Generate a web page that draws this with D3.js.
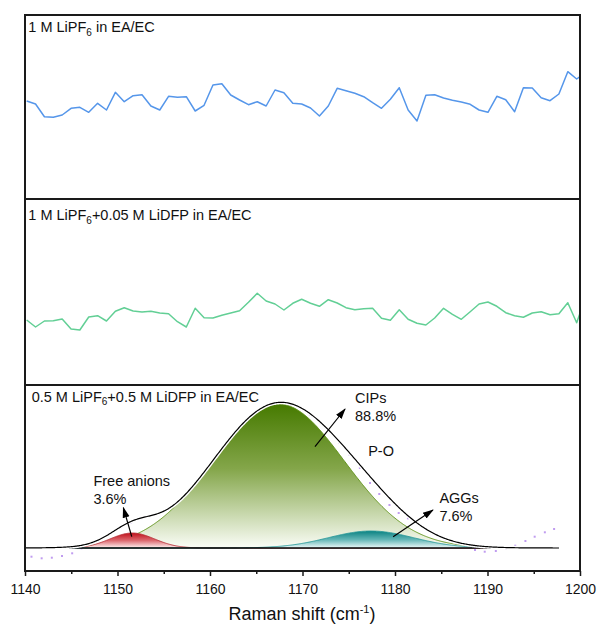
<!DOCTYPE html>
<html><head><meta charset="utf-8">
<script src="https://cdn.jsdelivr.net/npm/d3@7"></script>
<style>
body{margin:0;background:#fff}
svg{display:block}
text{font-family:"Liberation Sans",Arial,Helvetica,sans-serif;fill:#111}
</style>
</head><body>
<svg id="chart" width="597" height="628"></svg>
<script>
// ---------- data ----------
const ramanShift = [1140.18,1141.14,1142.10,1143.06,1144.02,1144.98,1145.93,1146.89,1147.85,1148.81,
1149.77,1150.73,1151.69,1152.65,1153.61,1154.57,1155.52,1156.48,1157.44,1158.40,
1159.36,1160.32,1161.28,1162.24,1163.20,1164.16,1165.11,1166.07,1167.03,1167.99,
1168.95,1169.91,1170.87,1171.83,1172.79,1173.75,1174.70,1175.66,1176.62,1177.58,
1178.54,1179.50,1180.46,1181.42,1182.38,1183.34,1184.29,1185.25,1186.21,1187.17,
1188.13,1189.09,1190.05,1191.01,1191.97,1192.93,1193.88,1194.84,1195.80,1196.76,
1197.72,1198.68,1199.64,1200.00];

const intensityLiPF6 = [98.0,95.0,82.3,81.7,84.0,90.7,91.7,86.7,95.7,89.0,
106.7,97.3,103.3,104.3,93.0,89.0,102.7,101.7,102.3,88.0,
93.7,114.0,115.3,104.0,99.0,94.3,97.3,93.0,109.0,106.3,
95.7,95.0,91.0,83.0,93.0,110.7,108.3,105.7,102.3,96.3,
90.7,99.7,111.3,89.0,78.0,103.7,104.3,101.0,98.7,97.0,
94.7,89.0,86.7,102.7,99.3,87.3,111.3,111.0,101.3,98.3,
105.0,127.3,120.0,122.3];

const intensityLiPF6DFP = [65.0,58.0,64.0,64.3,66.0,56.0,55.0,68.0,69.3,64.0,
73.7,77.3,74.0,73.0,73.7,72.0,71.3,63.3,58.0,76.7,
67.3,67.0,69.7,72.0,74.3,82.7,91.7,84.0,81.0,75.0,
81.7,85.7,81.7,78.7,85.3,82.0,77.3,75.3,76.3,76.7,
66.7,64.7,75.3,65.7,61.7,60.0,67.0,76.7,70.7,65.7,
73.3,81.0,83.0,78.7,72.3,69.3,67.7,72.0,73.3,70.3,
71.3,82.3,62.3,71.7];

// experimental points, 0.5 M LiPF6 + 0.5 M LiDFP
const expShift = [1140.7,1141.8,1142.9,1144.0,1145.1,1146.1,1147.1,1148.1,1149.2,1150.3,
1151.4,1152.5,1153.5,1154.6,1155.7,1156.8,1157.8,1158.9,1160.0,1161.1,
1162.2,1163.2,1164.3,1165.4,1166.5,1167.6,1168.7,1169.7,1170.8,1171.9,
1173.0,1174.0,1175.1,1176.2,1177.3,1178.3,1179.4,1180.4,1181.4,1182.4,
1183.4,1184.5,1185.5,1186.6,1187.6,1188.65,1189.7,1190.9,1192.0,1193.0,
1194.1,1195.1,1196.2,1197.2];
const expIntensity = [-8.7,-10.3,-9.7,-8.0,-5.3,-0.3,4,9,14,20,
25,29,32,35,40,48,57,69,82,95,
108,119,129,137,142,144,143,140,133,125,
116,105,93,80,65,54,43,35,29.7,24,
19,13,8,4,1,-2,-3.7,-3,-0.3,2.3,
7,11.3,15.7,19];

// fitted peaks
const peakNames   = ["Free anions","CIPs","AGGs"];
const peakShares  = ["3.6%","88.8%","7.6%"];
const peakCenters = [1151.6,1167.4,1177.4];
const peakHeights = [15,144,17];
const peakSigmas  = [2.4,7.1,4.6];
const fitRange    = [1140,1197.7];

const panelLabels = [
  ["1 M LiPF","6"," in EA/EC"],
  ["1 M LiPF","6","+0.05 M LiDFP in EA/EC"],
  ["0.5 M LiPF","6","+0.5 M LiDFP in EA/EC"]
];
const xMajorTicks = [1140,1150,1160,1170,1180,1190,1200];
const xMinorTicks = [1145,1155,1165,1175,1185,1195];

// ---------- drawing ----------
const svg = d3.select("#chart");
const L = 25, R = 580;
const x = d3.scaleLinear().domain([1140,1200]).range([L,R]);
const yTop = d3.scaleLinear().domain([0,184]).range([199,15]);
const yMid = d3.scaleLinear().domain([0,186]).range([385,199]);
const yBot = d3.scaleLinear().domain([-24,162]).range([572,386]);

const defs = svg.append("defs");
svg.append("clipPath").attr("id","clipTop").append("rect").attr("x",L).attr("y",15).attr("width",R-L).attr("height",184);
svg.append("clipPath").attr("id","clipMid").append("rect").attr("x",L).attr("y",199).attr("width",R-L).attr("height",186);

// top spectrum
const lineTop = d3.line().x((d,i)=>x(ramanShift[i])).y(d=>yTop(d));
svg.append("path").attr("clip-path","url(#clipTop)").attr("d",lineTop(intensityLiPF6))
  .attr("fill","none").attr("stroke","#5596ea").attr("stroke-width",1.5).attr("stroke-linejoin","round");

// middle spectrum
const lineMid = d3.line().x((d,i)=>x(ramanShift[i])).y(d=>yMid(d));
svg.append("path").attr("clip-path","url(#clipMid)").attr("d",lineMid(intensityLiPF6DFP))
  .attr("fill","none").attr("stroke","#62cf95").attr("stroke-width",1.5).attr("stroke-linejoin","round");

// bottom: fitted peaks
const grads = [
  {id:"gRed",  stops:[[0,"#c0101b"],[0.5,"#dc6a70"],[1,"#fff4f4"]]},
  {id:"gGreen",stops:[[0,"#467a00"],[0.45,"#84a64a"],[1,"#fbfdf7"]]},
  {id:"gTeal", stops:[[0,"#0a8282"],[0.5,"#62b5b5"],[1,"#effafa"]]}
];
grads.forEach(g=>{
  const lg = defs.append("linearGradient").attr("id",g.id).attr("x1",0).attr("y1",0).attr("x2",0).attr("y2",1);
  g.stops.forEach(s=>lg.append("stop").attr("offset",s[0]).attr("stop-color",s[1]));
});
const edgeColors = ["#b8323a","#5a8e12","#2a9a9a"];

const xs = d3.range(fitRange[0], fitRange[1]+1e-9, 0.1);
function gauss(k, v){ const d=(v-peakCenters[k])/peakSigmas[k]; return peakHeights[k]*Math.exp(-0.5*d*d); }

// experimental points (beneath the fit)
svg.append("g").selectAll("rect").data(expShift).join("rect")
  .attr("x",(d)=>x(d)-1).attr("y",(d,i)=>yBot(expIntensity[i])-1)
  .attr("width",2).attr("height",2).attr("fill","#c09cf0");

const area = d3.area().x(d=>x(d[0])).y0(yBot(0)).y1(d=>yBot(d[1]));
const line = d3.line().x(d=>x(d[0])).y(d=>yBot(d[1]));
[1,0,2].forEach(k=>{
  const pts = xs.map(v=>[v,gauss(k,v)]);
  svg.append("path").attr("d",area(pts)).attr("fill","url(#"+grads[k].id+")");
  svg.append("path").attr("d",line(pts)).attr("fill","none").attr("stroke",edgeColors[k]).attr("stroke-width",0.9);
});
// baseline
svg.append("line").attr("x1",x(fitRange[0])).attr("x2",x(fitRange[1])).attr("y1",yBot(0)).attr("y2",yBot(0))
  .attr("stroke","#000").attr("stroke-width",1.3);
// envelope
const env = xs.map(v=>[v,gauss(0,v)+gauss(1,v)+gauss(2,v)]);
svg.append("path").attr("d",line(env)).attr("fill","none").attr("stroke","#fff").attr("stroke-width",4);
svg.append("path").attr("d",line(env)).attr("fill","none").attr("stroke","#000").attr("stroke-width",1.2);

// arrows
const marker = defs.append("marker").attr("id","arr").attr("markerUnits","userSpaceOnUse")
  .attr("markerWidth",12).attr("markerHeight",10).attr("viewBox","0 -5 12 10")
  .attr("refX",10).attr("refY",0).attr("orient","auto");
marker.append("path").attr("d","M0,-3.5L11,0L0,3.5Z").attr("fill","#000");
const arrows = [
  [1151.54,11.3,1150.63,40.3],
  [1171.35,101.3,1174.6,139],
  [1179.8,11.3,1184.1,38]
];
arrows.forEach(a=>{
  svg.append("line").attr("x1",x(a[0])).attr("y1",yBot(a[1])).attr("x2",x(a[2])).attr("y2",yBot(a[3]))
    .attr("stroke","#000").attr("stroke-width",1.2).attr("marker-end","url(#arr)");
});
// annotations
const annPos = [[1147.4,62,44],[1175.68,144.7,127],[1184.8,44.7,27]];
annPos.forEach((p,k)=>{
  svg.append("text").attr("x",x(p[0])).attr("y",yBot(p[1])).attr("font-size",14.5).text(peakNames[k]);
  svg.append("text").attr("x",x(p[0])).attr("y",yBot(p[2])).attr("font-size",14.5).text(peakShares[k]);
});
svg.append("text").attr("x",x(1177.1)).attr("y",yBot(92)).attr("font-size",14.5).text("P-O");

// frames
svg.append("rect").attr("x",L).attr("y",15).attr("width",R-L).attr("height",571-15)
  .attr("fill","none").attr("stroke","#1a1a1a").attr("stroke-width",2);
[199,385].forEach(yy=>svg.append("line").attr("x1",L).attr("x2",R).attr("y1",yy).attr("y2",yy)
  .attr("stroke","#1a1a1a").attr("stroke-width",2));

// panel labels
const labelPos = [[28.3,32],[28.3,220],[31.7,401.7]];
panelLabels.forEach((lab,k)=>{
  const t = svg.append("text").attr("x",labelPos[k][0]).attr("y",labelPos[k][1]).attr("font-size",14.5);
  t.append("tspan").text(lab[0]);
  t.append("tspan").attr("font-size",10).attr("dy",3.5).text(lab[1]);
  t.append("tspan").attr("dy",-3.5).text(lab[2]);
});

// x axis
const gx = svg.append("g").attr("transform","translate(0,571)");
gx.call(d3.axisBottom(x).tickValues(xMajorTicks).tickSize(5).tickPadding(8).tickFormat(d3.format("d")));
gx.select(".domain").remove();
gx.selectAll(".tick line").attr("stroke","#1a1a1a").attr("stroke-width",1.5);
gx.selectAll(".tick text").attr("font-size",14).attr("fill","#111")
  .style("font-family",'"Liberation Sans",Arial,sans-serif');
const gm = svg.append("g").attr("transform","translate(0,571)");
gm.call(d3.axisBottom(x).tickValues(xMinorTicks).tickSize(3).tickFormat(""));
gm.select(".domain").remove();
gm.selectAll(".tick line").attr("stroke","#1a1a1a").attr("stroke-width",1.5);

// axis title
const tt = svg.append("text").attr("x",302).attr("y",620).attr("text-anchor","middle").attr("font-size",18);
tt.append("tspan").text("Raman shift (cm");
tt.append("tspan").attr("font-size",11).attr("dy",-7).text("-1");
tt.append("tspan").attr("dy",7).text(")");
</script>
</body></html>
